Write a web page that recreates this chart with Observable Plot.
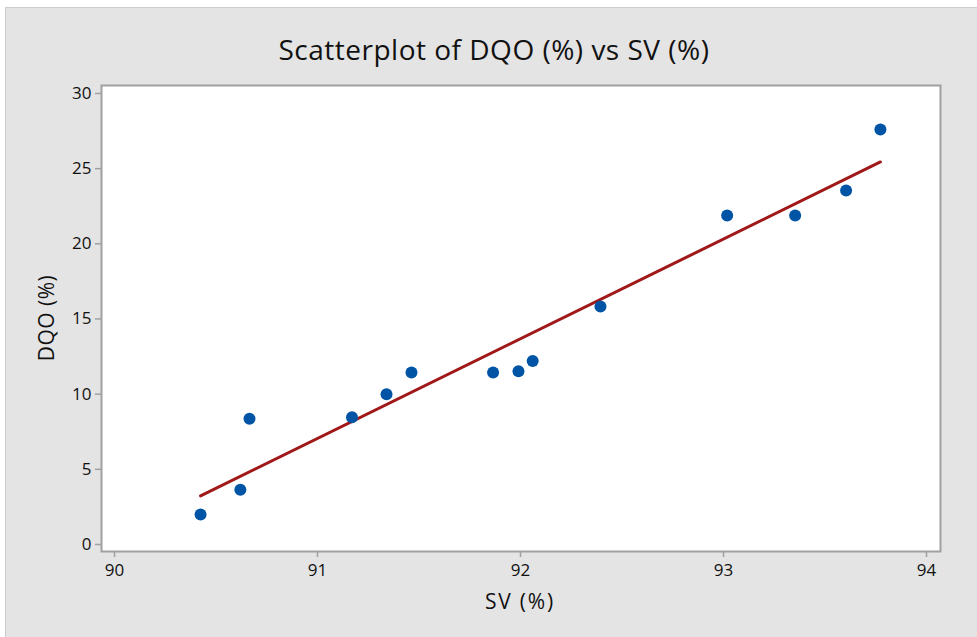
<!DOCTYPE html>
<html><head><meta charset="utf-8">
<script src="https://cdn.jsdelivr.net/npm/d3@7"></script>
<script src="https://cdn.jsdelivr.net/npm/@observablehq/plot@0.6"></script>
<style>
body{margin:0;background:#fff;font-family:"Open Sans",sans-serif;}
#wrap{position:relative;width:977px;height:637px;overflow:hidden;}
#bg{position:absolute;left:5px;top:7px;right:0;bottom:0;background:#e4e4e4;border-left:1px solid #cdcdcd;border-top:1px solid #cdcdcd;}
#title{position:absolute;top:33px;left:0;width:988px;text-align:center;font-size:28px;letter-spacing:0.5px;color:#111;line-height:1.2;white-space:nowrap;}
#xlabel{position:absolute;left:420px;width:200px;top:589px;text-align:center;font-size:21px;letter-spacing:1.8px;color:#111;line-height:1.2;}
#ylabel{position:absolute;left:47px;top:318px;transform:translate(-50%,-50%) rotate(-90deg);font-size:21px;letter-spacing:0.5px;color:#111;white-space:nowrap;line-height:1.2;}
#chart{position:absolute;left:0;top:0;}
#chart svg{background:transparent;}
</style></head>
<body>
<div id="wrap">
<div id="bg"></div>
<div id="chart"></div>
<div id="title">Scatterplot of DQO (%) vs SV (%)</div>
<div id="xlabel">SV (%)</div>
<div id="ylabel">DQO (%)</div>
</div>
<script>
const sv  = [90.424, 90.62, 90.665, 91.17, 91.34, 91.463, 91.865, 91.99, 92.06, 92.394, 93.018, 93.353, 93.604, 93.773];
const dqo = [2.0, 3.64, 8.36, 8.47, 10.0, 11.44, 11.44, 11.53, 12.2, 15.83, 21.89, 21.89, 23.55, 27.61];
const xTicks = [90, 91, 92, 93, 94];
const yTicks = [0, 5, 10, 15, 20, 25, 30];

const data = sv.map((x, i) => ({sv: x, dqo: dqo[i]}));

const chart = Plot.plot({
  width: 977,
  height: 637,
  marginLeft: 101,
  marginRight: 37,
  marginTop: 85,
  marginBottom: 86,
  style: {background: "transparent", fontFamily: "'Open Sans', sans-serif", fontSize: "17px", color: "#111"},
  x: {domain: [89.936, 94.069], label: null},
  y: {domain: [-0.467, 30.53], label: null},
  marks: [
    Plot.frame({fill: "white", stroke: null}),
    Plot.axisX({ticks: xTicks, tickSize: 6, tickPadding: 6, stroke: "#a0a0a0", strokeWidth: 1.5, fill: "#111", fontSize: 17, label: null, tickFormat: d3.format("d")}),
    Plot.axisY({ticks: yTicks, tickSize: 6, tickPadding: 4, stroke: "#a0a0a0", strokeWidth: 1.5, fill: "#111", fontSize: 17, label: null, tickFormat: d3.format("d")}),
    Plot.linearRegressionY(data, {x: "sv", y: "dqo", ci: 0, stroke: "#a01818", strokeWidth: 3}),
    Plot.dot(data, {x: "sv", y: "dqo", r: 6, fill: "#0054a6", stroke: null}),
    Plot.frame({stroke: "#a0a0a0", strokeWidth: 2})
  ]
});
document.getElementById("chart").appendChild(chart);
</script>
</body></html>
